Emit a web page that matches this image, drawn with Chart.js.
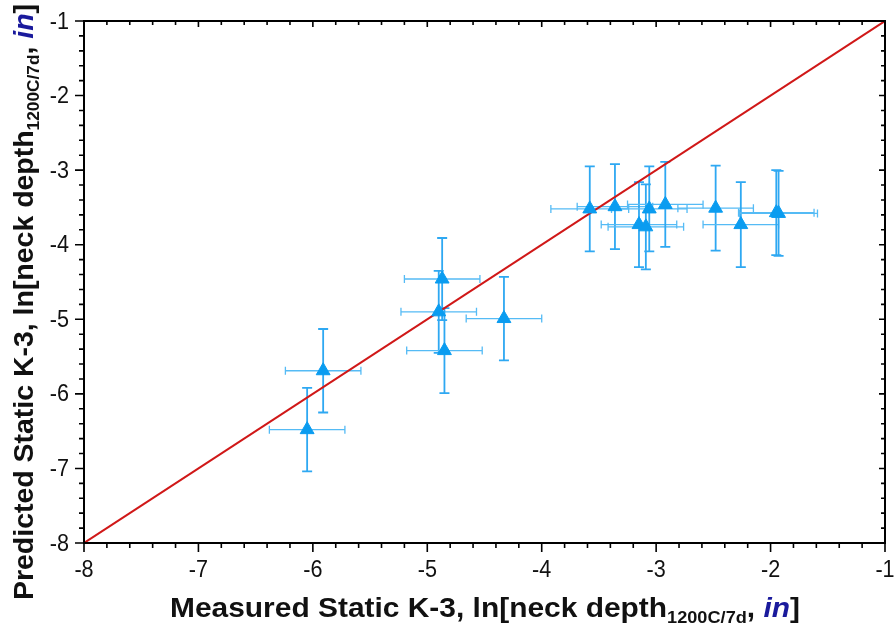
<!DOCTYPE html>
<html>
<head>
<meta charset="utf-8">
<script src="https://cdn.jsdelivr.net/npm/chart.js@4.4.1/dist/chart.umd.min.js"></script>
<style>
  html, body { margin: 0; padding: 0; background: #fff; }
  #wrap { width: 894px; height: 625px; }
</style>
</head>
<body>
<div id="wrap"><canvas id="chart" width="894" height="625"></canvas></div>
<script>
// --- Datos ---
const measured  = [-6.05, -5.91, -4.87, -4.90, -4.85, -4.33, -3.58, -3.36, -3.15, -3.09, -3.06, -2.92, -2.48, -2.26, -1.95, -1.93];
const predicted = [-6.48, -5.69, -4.46, -4.90, -5.42, -4.99, -3.52, -3.49, -3.73, -3.76, -3.52, -3.46, -3.51, -3.73, -3.57, -3.58];
const measuredErr  = [0.33, 0.33, 0.33, 0.33, 0.33, 0.33, 0.34, 0.33, 0.33, 0.33, 0.33, 0.33, 0.33, 0.33, 0.33, 0.34];
const predictedErr = [0.56, 0.56, 0.55, 0.55, 0.57, 0.56, 0.57, 0.57, 0.57, 0.57, 0.57, 0.57, 0.57, 0.57, 0.57, 0.57];

// línea 1:1
const lineX = [-8, -1];
const lineY = [-8, -1];

const tickValues = [-8, -7, -6, -5, -4, -3, -2, -1];
const tickLabels = ['-8', '-7', '-6', '-5', '-4', '-3', '-2', '-1'];

const markerColor = '#0A9CF0';
const vErrColor = '#2EA8F2';
const hErrColor = '#55BBF5';

// --- Barras de error ---
const errorBarsPlugin = {
  id: 'errorBars',
  beforeDatasetsDraw(chart) {
    const { ctx, scales: { x, y } } = chart;
    ctx.save();
    measured.forEach((mx, i) => {
      const py = predicted[i];
      const cx = x.getPixelForValue(mx);
      const cy = y.getPixelForValue(py);
      // horizontal
      const x0 = x.getPixelForValue(mx - measuredErr[i]);
      const x1 = x.getPixelForValue(mx + measuredErr[i]);
      ctx.strokeStyle = hErrColor;
      ctx.lineWidth = 1.3;
      ctx.beginPath();
      ctx.moveTo(x0, cy); ctx.lineTo(x1, cy);
      ctx.moveTo(x0, cy - 4); ctx.lineTo(x0, cy + 4);
      ctx.moveTo(x1, cy - 4); ctx.lineTo(x1, cy + 4);
      ctx.stroke();
      // vertical
      const y0 = y.getPixelForValue(py + predictedErr[i]);
      const y1 = y.getPixelForValue(py - predictedErr[i]);
      ctx.strokeStyle = vErrColor;
      ctx.lineWidth = 1.8;
      ctx.beginPath();
      ctx.moveTo(cx, y0); ctx.lineTo(cx, y1);
      ctx.moveTo(cx - 5, y0); ctx.lineTo(cx + 5, y0);
      ctx.moveTo(cx - 5, y1); ctx.lineTo(cx + 5, y1);
      ctx.stroke();
    });
    ctx.restore();
  }
};

// --- Marco, marcas y textos de ejes ---
function drawRich(ctx, parts, cx, cy, targetW, angle) {
  ctx.save();
  let total = 0;
  parts.forEach(p => { ctx.font = p.font; p.w = ctx.measureText(p.t).width; total += p.w; });
  ctx.translate(cx, cy);
  ctx.rotate(angle);
  ctx.scale(targetW / total, 1);
  let px = -total / 2;
  ctx.textBaseline = 'alphabetic';
  ctx.textAlign = 'left';
  parts.forEach(p => {
    ctx.font = p.font;
    ctx.fillStyle = p.color;
    ctx.fillText(p.t, px, p.dy || 0);
    px += p.w;
  });
  ctx.restore();
}

// texto algo estrecho (la fuente original es condensada)
function narrowText(ctx, txt, x, y, align, baseline) {
  ctx.save();
  ctx.translate(x, y);
  ctx.scale(0.9, 1);
  ctx.textAlign = align;
  ctx.textBaseline = baseline;
  ctx.fillText(txt, 0, 0);
  ctx.restore();
}

const axesPlugin = {
  id: 'axesFrame',
  afterDatasetsDraw(chart) {
    const { ctx, chartArea: a, scales: { x, y } } = chart;
    ctx.save();
    ctx.strokeStyle = '#000';
    ctx.lineWidth = 2;
    ctx.strokeRect(a.left, a.top, a.right - a.left, a.bottom - a.top);

    ctx.lineWidth = 1.6;
    ctx.beginPath();
    for (let k = 0; k <= 35; k++) {
      const v = -8 + k * 0.2;
      const major = k % 5 === 0;
      const px = x.getPixelForValue(v);
      const py = y.getPixelForValue(v);
      const out = major ? 9 : 5;
      const inn = major ? 6 : 4;
      // abajo / izquierda: hacia fuera
      ctx.moveTo(px, a.bottom); ctx.lineTo(px, a.bottom + out);
      ctx.moveTo(a.left - out, py); ctx.lineTo(a.left, py);
      // arriba / derecha: hacia dentro
      ctx.moveTo(px, a.top); ctx.lineTo(px, a.top + inn);
      ctx.moveTo(a.right, py); ctx.lineTo(a.right - inn, py);
    }
    ctx.stroke();

    ctx.fillStyle = '#111';
    ctx.font = '24px "Liberation Sans", Arial, sans-serif';
    tickValues.forEach((v, i) => {
      narrowText(ctx, tickLabels[i], x.getPixelForValue(v), a.bottom + 15, 'center', 'top');
      narrowText(ctx, tickLabels[i], a.left - 15, y.getPixelForValue(v) + 1, 'right', 'middle');
    });

    const bold = 'bold 28px "Liberation Sans", Arial, sans-serif';
    const sub = 'bold 17px "Liberation Sans", Arial, sans-serif';
    const it = 'italic bold 28px "Liberation Sans", Arial, sans-serif';
    const xParts = [
      { t: 'Measured Static K-3, ln[neck depth', font: bold, color: '#111' },
      { t: '1200C/7d', font: sub, color: '#111', dy: 6 },
      { t: ', ', font: bold, color: '#111' },
      { t: 'in', font: it, color: '#1a1a9c' },
      { t: ']', font: bold, color: '#111' }
    ];
    drawRich(ctx, xParts, 485, 617, 630, 0);
    const yParts = [
      { t: 'Predicted Static K-3, ln[neck depth', font: bold, color: '#111' },
      { t: '1200C/7d', font: sub, color: '#111', dy: 6 },
      { t: ', ', font: bold, color: '#111' },
      { t: 'in', font: it, color: '#1a1a9c' },
      { t: ']', font: bold, color: '#111' }
    ];
    drawRich(ctx, yParts, 33, 302, 596, -Math.PI / 2);
    ctx.restore();
  }
};

const ctx = document.getElementById('chart').getContext('2d');
new Chart(ctx, {
  type: 'scatter',
  data: {
    datasets: [
      {
        label: 'Predicted vs Measured',
        data: measured.map((mx, i) => ({ x: mx, y: predicted[i] })),
        pointStyle: 'triangle',
        pointRadius: 8,
        pointHoverRadius: 8,
        backgroundColor: markerColor,
        borderColor: markerColor,
        borderWidth: 1,
        order: 1
      },
      {
        type: 'line',
        label: '1:1',
        data: lineX.map((lx, i) => ({ x: lx, y: lineY[i] })),
        borderColor: '#D01818',
        borderWidth: 2,
        pointRadius: 0,
        fill: false,
        order: 2
      }
    ]
  },
  options: {
    responsive: false,
    devicePixelRatio: 1,
    animation: false,
    layout: { padding: { left: 84, right: 8, top: 21, bottom: 82 } },
    plugins: { legend: { display: false }, tooltip: { enabled: false } },
    scales: {
      x: { type: 'linear', min: -8, max: -1, display: false },
      y: { type: 'linear', min: -8, max: -1, display: false }
    }
  },
  plugins: [errorBarsPlugin, axesPlugin]
});
</script>
</body>
</html>
